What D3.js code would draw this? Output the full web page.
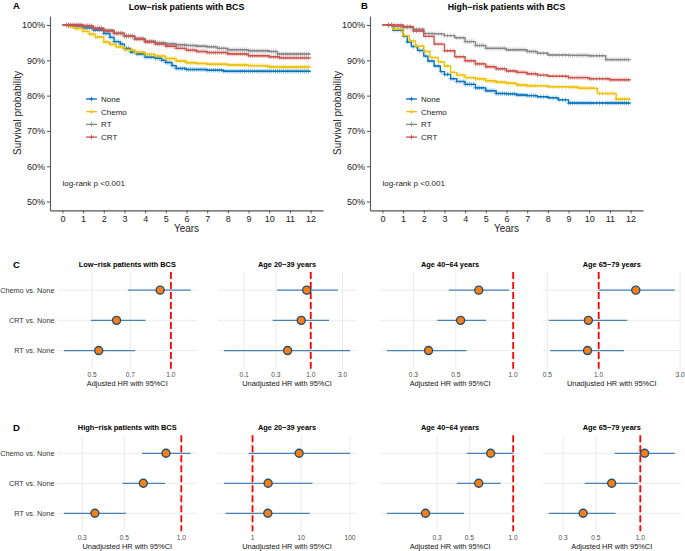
<!DOCTYPE html>
<html>
<head>
<meta charset="utf-8">
<script src="https://cdn.jsdelivr.net/npm/d3@7"></script>
<style>
  body { margin: 0; background: #fff; }
  svg { font-family: "Liberation Sans", Arial, sans-serif; }
</style>
</head>
<body>
<svg id="fig" width="685" height="551"></svg>
<script>

// ---------- KM data (time in years, survival in %) ----------
const groups = ["None", "Chemo", "RT", "CRT"];
const groupColors = ["#0073C2", "#EFC000", "#868686", "#CD534C"];
const yearTicks = [0, 1, 2, 3, 4, 5, 6, 7, 8, 9, 10, 11, 12];
const survTicks = [50, 60, 70, 80, 90, 100];

const noneA = [[0,100],[0.5,99.7],[1,99.2],[1.5,98.6],[2,97.6],[2.3,96.5],[2.5,95.3],[2.8,94.6],[3,93.4],[3.3,92.3],[3.6,91.8],[4,90.9],[4.5,90.6],[4.8,90.0],[5,89.4],[5.3,88.5],[5.5,87.7],[6,87.4],[7,87.2],[7.8,86.9],[12,86.9]];
const chemoA = [[0,100],[0.3,99.6],[0.6,99.0],[1,98.2],[1.3,97.4],[1.6,96.6],[2,95.2],[2.3,94.5],[2.6,93.8],[3,93.0],[3.5,92.3],[4,91.7],[4.5,91.2],[5,90.5],[5.5,89.8],[6,89.3],[6.5,89.1],[7,88.9],[8,88.7],[9,88.5],[9.8,88.4],[10,88.1],[12,88.1]];
const rtA = [[0,100],[0.5,100],[1,99.7],[1.5,99.2],[2,98.5],[2.5,97.7],[3,97.0],[3.5,96.2],[4,95.4],[4.5,95.0],[5,94.7],[5.5,94.4],[6,94.2],[6.5,94.0],[7,93.8],[7.5,93.4],[8,93.0],[9,92.7],[10,92.5],[10.4,91.8],[12,91.8]];
const crtA = [[0,100],[0.5,100],[1,99.8],[1.5,99.0],[2,98.3],[2.5,97.6],[3,96.8],[3.5,96.0],[4,95.2],[4.5,94.6],[5,94.0],[5.5,93.4],[6,92.9],[6.5,92.5],[7,92.2],[8,91.8],[9,91.3],[10,91.0],[10.5,90.7],[12,90.7]];

const noneB = [[0,100],[0.5,98.5],[1,96.8],[1.2,95.2],[1.4,93.9],[1.7,92.8],[2,91.2],[2.2,89.8],[2.5,88.4],[2.8,86.8],[3,86.0],[3.3,84.8],[3.6,84.0],[4,83.2],[4.5,82.2],[5,81.4],[5.5,80.6],[6,80.5],[6.5,80.2],[7,80.0],[7.5,79.7],[8,79.4],[8.5,78.8],[9,77.9],[12,77.9]];
const chemoB = [[0,100],[0.5,98.8],[1,97.0],[1.3,95.5],[1.6,94.0],[2,92.5],[2.3,90.8],[2.7,89.6],[3,88.4],[3.3,86.6],[3.6,85.8],[4,85.1],[4.5,84.8],[5,84.2],[5.5,83.8],[6,83.5],[6.5,83.0],[7,82.8],[8,82.5],[9,82.4],[9.5,82.1],[10.3,82.0],[10.4,80.6],[11.2,80.6],[11.3,79.0],[12,79.0]];
const rtB = [[0,100],[0.5,99.6],[1,99.3],[1.5,98.8],[2,97.6],[2.5,97.5],[3,97.0],[3.5,96.4],[4,95.3],[4.5,94.2],[5,93.4],[6,93.0],[7,92.5],[7.5,92.0],[8,91.5],[9,91.4],[10,91.3],[10.8,90.2],[12,90.2]];
const crtB = [[0,100],[0.5,100],[1,99.6],[1.5,98.3],[2,96.8],[2.5,94.6],[3,92.7],[3.5,91.0],[4,89.9],[4.5,89.0],[5,88.2],[5.5,87.6],[6,87.0],[6.5,86.6],[7,86.2],[7.5,85.8],[8,85.5],[9,85.1],[10,84.8],[11,84.5],[12,84.5]];

// censoring times (marks drawn on each curve)
const censorA = [0.2,0.3,0.4,0.5,0.6,0.7,0.8,0.9,1.0,1.1,1.2,1.3,1.4,1.5,1.6,1.7,1.8,1.9,2.0,2.1,2.2,2.3,2.4,2.5,2.6,2.7,2.8,2.9,3.0,3.1,3.2,3.3,3.4,3.5,3.6,3.7,3.8,3.9,4.0,4.1,4.2,4.3,4.4,4.5,4.6,4.7,4.8,4.9,5.0,5.1,5.2,5.3,5.4,5.5,5.6,5.7,5.8,5.9,6.0,6.1,6.2,6.3,6.4,6.5,6.6,6.7,6.8,6.9,7.0,7.1,7.2,7.3,7.4,7.5,7.6,7.7,7.8,7.9,8.0,8.1,8.2,8.3,8.4,8.5,8.6,8.7,8.8,8.9,9.0,9.1,9.2,9.3,9.4,9.5,9.6,9.7,9.8,9.9,10.0,10.1,10.2,10.3,10.4,10.5,10.6,10.7,10.8,10.9,11.0,11.1,11.2,11.3,11.4,11.5,11.6,11.7,11.8,11.9];
const censorB = [0.3,0.45,0.6,0.75,0.9,1.05,1.2,1.35,1.5,1.65,1.8,1.95,2.1,2.25,2.4,2.55,2.7,2.85,3.0,3.15,3.3,3.45,3.6,3.75,3.9,4.0,4.1,4.2,4.3,4.4,4.5,4.6,4.7,4.8,4.9,5.0,5.1,5.2,5.3,5.4,5.5,5.6,5.7,5.8,5.9,6.0,6.1,6.2,6.3,6.4,6.5,6.6,6.7,6.8,6.9,7.0,7.1,7.2,7.3,7.4,7.5,7.65,7.8,7.95,8.1,8.25,8.4,8.55,8.7,8.85,9.0,9.1,9.2,9.3,9.4,9.5,9.6,9.7,9.8,9.9,10.0,10.1,10.2,10.35,10.5,10.65,10.8,10.9,11.0,11.1,11.2,11.3,11.4,11.5,11.6,11.7,11.8,11.9];

// ---------- forest data ----------
const comparisons = ["Chemo vs. None", "CRT vs. None", "RT vs. None"];

const hrC1 = [0.91, 0.62, 0.53], loC1 = [0.685, 0.495, 0.39], hiC1 = [1.19, 0.80, 0.73];
const hrC2 = [0.87, 0.72, 0.45], loC2 = [0.31, 0.27, 0.05], hiC2 = [2.54, 1.88, 3.88];
const hrC3 = [0.66, 0.53, 0.36], loC3 = [0.46, 0.40, 0.218], hiC3 = [0.95, 0.72, 0.57];
const hrC4 = [1.65, 0.87, 0.86], loC4 = [1.0, 0.51, 0.52], hiC4 = [2.79, 1.47, 1.41];

const hrD1 = [0.83, 0.63, 0.35], loD1 = [0.62, 0.49, 0.24], hiD1 = [1.12, 0.82, 0.51];
const hrD2 = [9.06, 2.09, 2.06], loD2 = [0.84, 0.26, 0.28], hiD2 = [100, 17, 15];
const hrD3 = [0.70, 0.58, 0.25], loD3 = [0.48, 0.41, 0.136], hiD3 = [1.0, 0.82, 0.46];
const hrD4 = [1.07, 0.64, 0.41], loD4 = [0.67, 0.42, 0.24], hiD4 = [1.71, 0.96, 0.68];

const ticksC1 = [0.5, 0.7, 1.0], ticksC2 = [0.1, 0.3, 1.0, 3.0], ticksC3 = [0.3, 0.5, 1.0], ticksC4 = [0.5, 1.0, 3.0];
const ticksD1 = [0.3, 0.5, 1.0], ticksD2 = [1, 10, 100], ticksD3 = [0.3, 0.5, 1.0], ticksD4 = [0.3, 0.5, 1.0];

const svg = d3.select("#fig");

////////////////
// KM PANELS  //
////////////////

function survAt(series, t) {
  const i = d3.bisector(d => d[0]).right(series, t) - 1;
  return series[Math.max(0, i)][1];
}

function kmPanel(o) {
  const x = d3.scaleLinear().domain([-0.6, 12.6]).range([o.left, o.right]);
  const y = d3.scaleLinear().domain([47.5, 102.5]).range([210.4, 16.2]);
  const g = svg.append("g");

  const xAx = g.append("g")
    .attr("transform", `translate(0,${y.range()[0]})`)
    .call(d3.axisBottom(x).tickValues(yearTicks).tickSize(3).tickPadding(2).tickSizeOuter(0));
  const yAx = g.append("g")
    .attr("transform", `translate(${x.range()[0]},0)`)
    .call(d3.axisLeft(y).tickValues(survTicks).tickFormat(d => d + "%").tickSize(3).tickPadding(2).tickSizeOuter(0));
  [xAx, yAx].forEach(a => {
    a.select(".domain").attr("stroke", "#555").attr("stroke-width", 1.1);
    a.selectAll(".tick line").attr("stroke", "#555");
    a.selectAll(".tick text").attr("font-size", 9).attr("fill", "#222")
      .style("font-family", "Liberation Sans, Arial, sans-serif");
  });

  const line = d3.line().x(d => x(d[0])).y(d => y(d[1])).curve(d3.curveStepAfter);

  o.series.forEach((s, i) => {
    g.append("path").attr("d", line(s)).attr("fill", "none")
      .attr("stroke", groupColors[i]).attr("stroke-width", 1.4);
    g.append("g").selectAll("path").data(o.censor).enter().append("path")
      .attr("d", t => { const cx = x(t), cy = y(survAt(s, t)); return `M${cx - 2.2},${cy}h4.4M${cx},${cy - 2.2}v4.4`; })
      .attr("stroke", groupColors[i]).attr("stroke-width", 0.8).attr("opacity", 0.7);
  });

  // legend
  groups.forEach((name, i) => {
    const ly = 99 + i * 12.7;
    g.append("line").attr("x1", o.legendX).attr("x2", o.legendX + 11).attr("y1", ly).attr("y2", ly)
      .attr("stroke", groupColors[i]).attr("stroke-width", 1.3);
    g.append("path").attr("d", `M${o.legendX + 3.3},${ly}h4.4M${o.legendX + 5.5},${ly - 2.2}v4.4`)
      .attr("stroke", groupColors[i]).attr("stroke-width", 0.9);
    g.append("text").attr("x", o.legendX + 15).attr("y", ly).attr("dy", "0.35em")
      .attr("font-size", 8).attr("fill", "#222").text(name);
  });

  g.append("text").attr("x", x(0)).attr("y", 186).attr("font-size", 8).attr("fill", "#222")
    .text("log-rank p <0.001");

  const cx = (o.left + o.right) / 2;
  g.append("text").attr("x", cx).attr("y", 10).attr("text-anchor", "middle")
    .attr("font-size", 8.8).attr("font-weight", "bold").text(o.title);
  g.append("text").attr("x", cx).attr("y", 232).attr("text-anchor", "middle")
    .attr("font-size", 10).attr("fill", "#222").text("Years");
  g.append("text").attr("transform", `translate(${o.left - 33},113) rotate(-90)`)
    .attr("text-anchor", "middle").attr("dy", "0.35em").attr("font-size", 10).attr("fill", "#222")
    .text("Survival probability");
  g.append("text").attr("x", o.tagX).attr("y", 8.5).attr("font-size", 9.5).attr("font-weight", "bold").text(o.tag);
}

kmPanel({ left: 50, right: 323, title: "Low\u2212risk patients with BCS", tag: "A", tagX: 13,
  series: [noneA, chemoA, rtA, crtA], censor: censorA, legendX: 86 });
kmPanel({ left: 370, right: 643, title: "High\u2212risk patients with BCS", tag: "B", tagX: 361,
  series: [noneB, chemoB, rtB, crtB], censor: censorB, legendX: 406 });

///////////////////
// FOREST PANELS //
///////////////////

const panelX = [[57.5, 197], [217.7, 356.3], [380.7, 519.5], [542.5, 681]];

function forestPanel(o) {
  const [left, right] = panelX[o.col];
  const ext = d3.extent(o.lo.concat(o.hi, [1]));
  const l0 = Math.log(ext[0]), l1 = Math.log(ext[1]), pad = (l1 - l0) * 0.05;
  const x = d3.scaleLog().domain([Math.exp(l0 - pad), Math.exp(l1 + pad)]).range([left, right]);
  const y = d3.scalePoint().domain(comparisons).range([o.top, o.bottom]).padding(0.6);
  const g = svg.append("g");

  g.selectAll(".vg").data(o.ticks).enter().append("line")
    .attr("x1", d => x(d)).attr("x2", d => x(d)).attr("y1", o.top).attr("y2", o.bottom)
    .attr("stroke", "#EBEBEB").attr("stroke-width", 1);
  g.selectAll(".hg").data(comparisons).enter().append("line")
    .attr("x1", left).attr("x2", right).attr("y1", d => y(d)).attr("y2", d => y(d))
    .attr("stroke", "#EBEBEB").attr("stroke-width", 1);

  g.append("line").attr("x1", x(1)).attr("x2", x(1)).attr("y1", o.top).attr("y2", o.bottom)
    .attr("stroke", "#FF0000").attr("stroke-width", 1.8).attr("stroke-dasharray", "7,3");

  g.selectAll(".ci").data(comparisons).enter().append("line")
    .attr("x1", (d, i) => x(o.lo[i])).attr("x2", (d, i) => x(o.hi[i]))
    .attr("y1", d => y(d)).attr("y2", d => y(d))
    .attr("stroke", "#4682B4").attr("stroke-width", 1.2);
  g.selectAll(".pt").data(comparisons).enter().append("circle")
    .attr("cx", (d, i) => x(o.hr[i])).attr("cy", d => y(d)).attr("r", 4)
    .attr("fill", "#FF7F0E").attr("stroke", "#1F4E79").attr("stroke-width", 1.4);

  g.selectAll(".tl").data(o.ticks).enter().append("text")
    .attr("x", d => x(d)).attr("y", o.bottom + 8.5).attr("text-anchor", "middle")
    .attr("font-size", 6.6).attr("fill", "#4D4D4D").text((d, i) => o.labels[i]);
  g.append("text").attr("x", (left + right) / 2).attr("y", o.bottom + 17.3).attr("text-anchor", "middle")
    .attr("font-size", 7.4).attr("fill", "#111").text(o.axisTitle);
  g.append("text").attr("x", (left + right) / 2).attr("y", o.top - 5).attr("text-anchor", "middle")
    .attr("font-size", 7.4).attr("font-weight", "bold").text(o.title);

  if (o.col === 0) {
    g.selectAll(".yl").data(comparisons).enter().append("text")
      .attr("x", left - 3).attr("y", d => y(d)).attr("dy", "0.35em").attr("text-anchor", "end")
      .attr("font-size", 7.3).attr("fill", "#333").text(d => d);
    g.append("text").attr("x", 13).attr("y", o.top - 4).attr("font-size", 9.5)
      .attr("font-weight", "bold").text(o.tag);
  }
}

const rowC = { top: 272, bottom: 368.7, tag: "C" };
const rowD = { top: 435.3, bottom: 531.3, tag: "D" };

forestPanel({ ...rowC, col: 0, title: "Low\u2212risk patients with BCS", axisTitle: "Adjusted HR with 95%CI",
  hr: hrC1, lo: loC1, hi: hiC1, ticks: ticksC1, labels: ["0.5", "0.7", "1.0"] });
forestPanel({ ...rowC, col: 1, title: "Age 20\u221239 years", axisTitle: "Unadjusted HR with 95%CI",
  hr: hrC2, lo: loC2, hi: hiC2, ticks: ticksC2, labels: ["0.1", "0.3", "1.0", "3.0"] });
forestPanel({ ...rowC, col: 2, title: "Age 40\u221264 years", axisTitle: "Adjusted HR with 95%CI",
  hr: hrC3, lo: loC3, hi: hiC3, ticks: ticksC3, labels: ["0.3", "0.5", "1.0"] });
forestPanel({ ...rowC, col: 3, title: "Age 65\u221279 years", axisTitle: "Unadjusted HR with 95%CI",
  hr: hrC4, lo: loC4, hi: hiC4, ticks: ticksC4, labels: ["0.5", "1.0", "3.0"] });

forestPanel({ ...rowD, col: 0, title: "High\u2212risk patients with BCS", axisTitle: "Unadjusted HR with 95%CI",
  hr: hrD1, lo: loD1, hi: hiD1, ticks: ticksD1, labels: ["0.3", "0.5", "1.0"] });
forestPanel({ ...rowD, col: 1, title: "Age 20\u221239 years", axisTitle: "Unadjusted HR with 95%CI",
  hr: hrD2, lo: loD2, hi: hiD2, ticks: ticksD2, labels: ["1", "10", "100"] });
forestPanel({ ...rowD, col: 2, title: "Age 40\u221264 years", axisTitle: "Adjusted HR with 95%CI",
  hr: hrD3, lo: loD3, hi: hiD3, ticks: ticksD3, labels: ["0.3", "0.5", "1.0"] });
forestPanel({ ...rowD, col: 3, title: "Age 65\u221279 years", axisTitle: "Adjusted HR with 95%CI",
  hr: hrD4, lo: loD4, hi: hiD4, ticks: ticksD4, labels: ["0.3", "0.5", "1.0"] });

</script>
</body>
</html>
